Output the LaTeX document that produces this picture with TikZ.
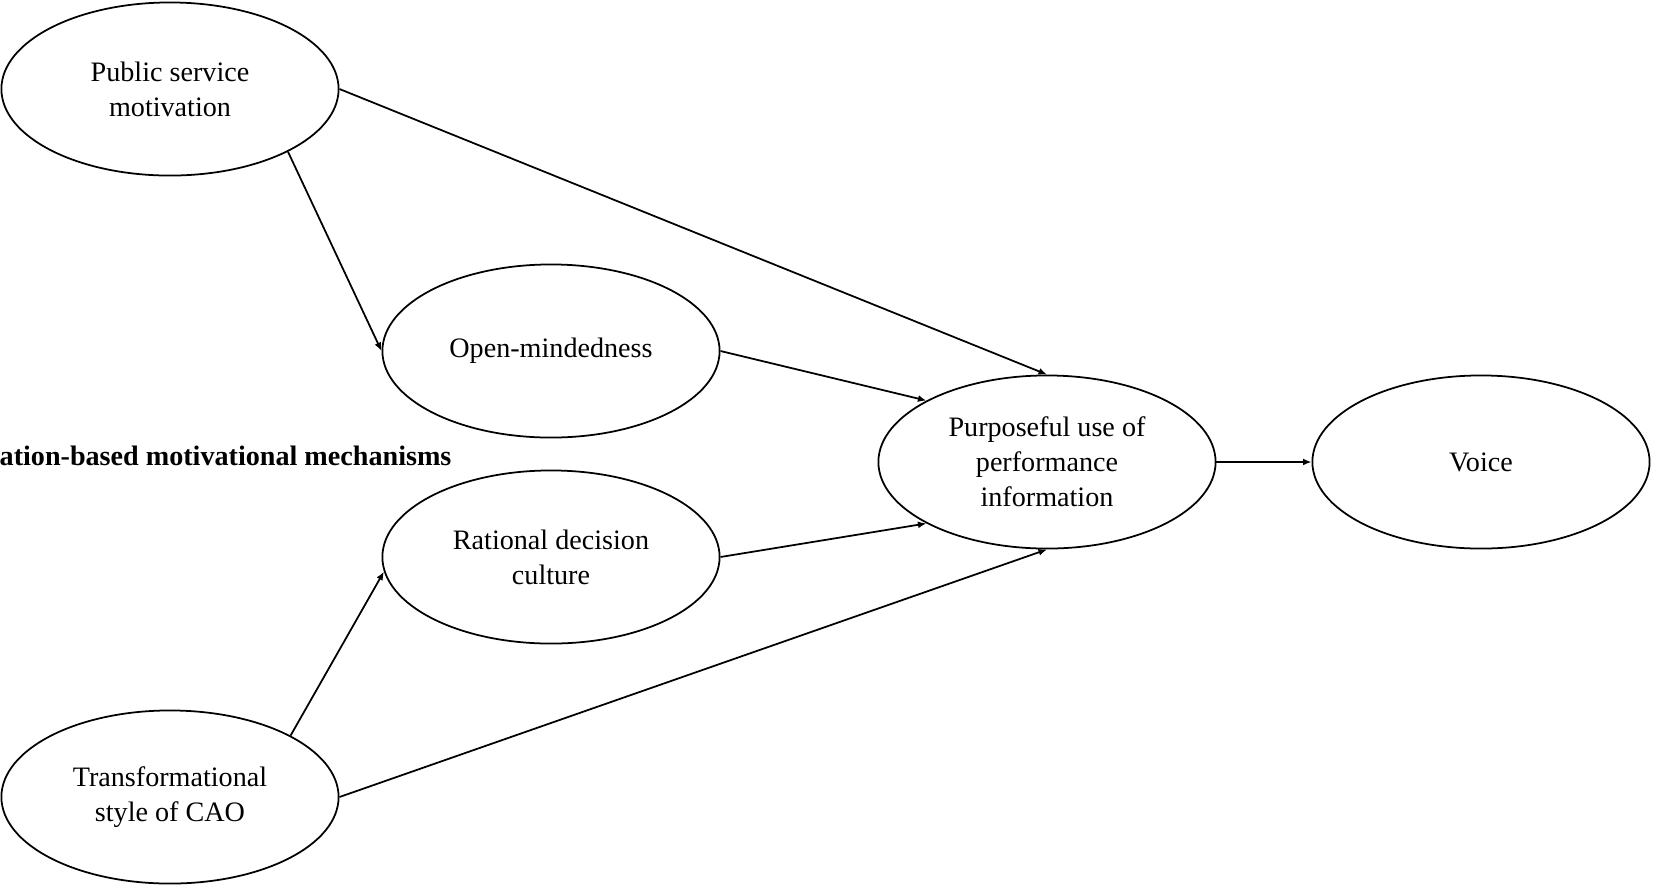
\documentclass[tikz,border=0pt]{standalone}
\usepackage{fontspec}
\setmainfont{Liberation Serif}
\usetikzlibrary{arrows.meta,positioning,shapes.geometric}

\begin{document}
\begin{tikzpicture}[x=0.01cm, y=-0.01cm]
\useasboundingbox (0,0) rectangle (1653,887);
\tikzstyle{var}=[draw, ellipse, line width=0.5pt, minimum width=3.37cm,
  minimum height=1.73cm, inner sep=0pt, align=center,
  font=\fontsize{8}{9.9}\selectfont]
\tikzstyle{path}=[-{Latex[length=0.85mm, width=0.7mm]}, line width=0.5pt]
\node[var] (psm) at (170,89) {Public service\\motivation};
\node[var] (open) at (551,351) {Open-mindedness};
\node[var] (rat) at (551,557) {Rational decision\\culture};
\node[var] (trans) at (170,797) {Transformational\\style of CAO};
\node[var] (use) at (1047,462) {Purposeful use of\\performance\\information};
\node[var] (voice) at (1481,462) {Voice};
\node[anchor=base west, inner sep=0pt, font=\fontsize{8}{9.9}\selectfont\bfseries]
  (mech) at (-1,465) {ation-based motivational mechanisms};
\draw[path] (psm.east) -- (use.north);
\draw[path] (psm.-28) -- (open.west);
\draw[path] (open.east) -- (use.153);
\draw[path] (rat.east) -- (use.-153);
\draw[path] (trans.27) -- (rat.185);
\draw[path] (trans.east) -- (use.south);
\draw[path] (use.east) -- (voice.west);
\end{tikzpicture}
\end{document}
